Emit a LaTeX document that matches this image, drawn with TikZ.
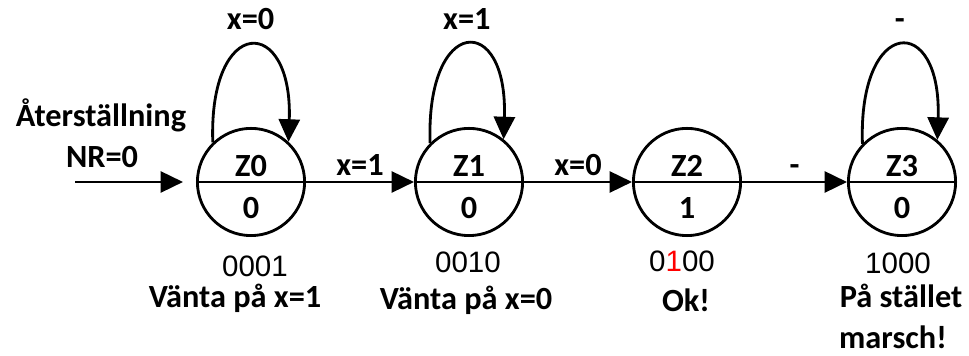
\documentclass[tikz,border=0pt]{standalone}
\usepackage{fontspec}
\setmainfont{Carlito}
\newfontfamily\codefont{Liberation Sans}
\usepackage{tikz}
\usetikzlibrary{arrows.meta,shapes.multipart}
\usepackage{xcolor}
\newcommand{\outval}[1]{\rule{0pt}{0.95em}#1}

\begin{document}
\begin{tikzpicture}[
    font=\fontsize{23}{26}\selectfont\bfseries,
    line width=2pt,
    >={Triangle[length=16pt,width=15pt]},
    state/.style={circle split, draw, minimum size=2.68cm, inner sep=3pt},
    code/.style={anchor=base, font=\fontsize{21}{24}\selectfont\codefont\mdseries},
    note/.style={anchor=base}
  ]
  \useasboundingbox (0,0) rectangle (24.225,8.9);
  \node[state] (Z0) at (6.275,4.35) {Z0 \nodepart{lower} \outval{0}};
  \node[state] (Z1) at (11.725,4.35) {Z1 \nodepart{lower} \outval{0}};
  \node[state] (Z2) at (17.175,4.35) {Z2 \nodepart{lower} \outval{1}};
  \node[state] (Z3) at (22.55,4.35) {Z3 \nodepart{lower} \outval{0}};
  \node[note] (reset) at (2.525,5.725) {Återställning};
  \node[note] (nr) at (2.55,4.7) {NR=0};
  \coordinate (init) at (1.875,4.35);
  \coordinate (initend) at (4.575,4.35);
  \draw[->] (init) -- (initend);
  \draw[->] (Z0.east) -- node[above] {x=1} (Z1.west);
  \draw[->] (Z1.east) -- node[above] {x=0} (Z2.west);
  \draw[->] (Z2.east) -- node[above] {-} (Z3.west);
  \draw[->] (Z0.134) to[out=92, in=88, distance=3.2cm] node[above=7pt] {x=0} (Z0.47);
  \draw[->] (Z1.135) to[out=92, in=88, distance=3.2cm] node[above=7pt] {x=1} (Z1.51);
  \draw[->] (Z3.136) to[out=92, in=88, distance=3.2cm] node[above=7pt] {-} (Z3.50);
  \node[code] (c0) at (6.375,1.975) {0001};
  \node[code] (c1) at (11.7,2.075) {0010};
  \node[code] (c2) at (17.05,2.1) {0\textcolor{red}{1}00};
  \node[code] (c3) at (22.45,2.05) {1000};
  \node[note] (n0) at (5.875,1.2) {Vänta på x=1};
  \node[note] (n1) at (11.65,1.15) {Vänta på x=0};
  \node[note] (n2) at (17.15,1.1) {Ok!};
  \node[note] (n3) at (22.525,1.2) {På stället};
  \node[note] (n3b) at (22.325,0.175) {marsch!};
\end{tikzpicture}
\end{document}
